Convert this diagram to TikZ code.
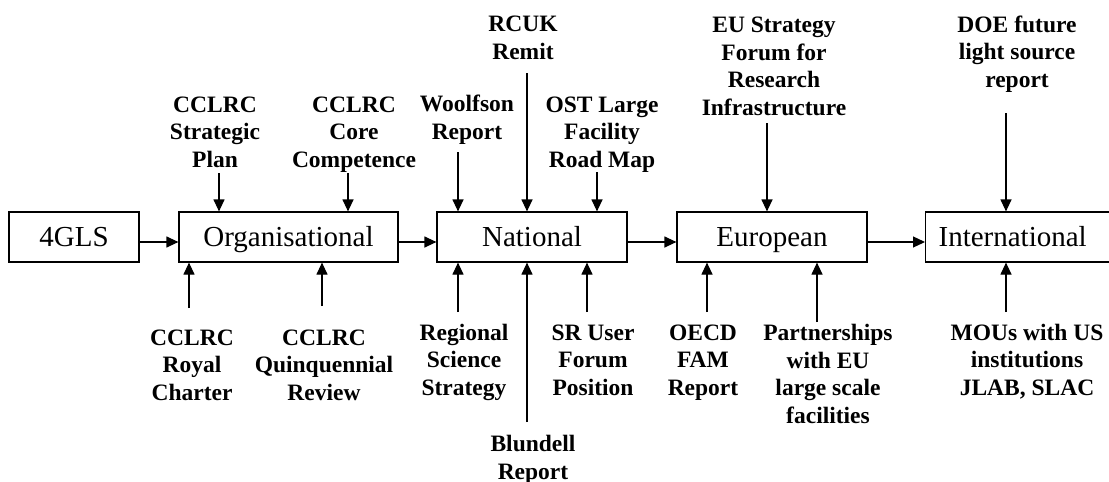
\documentclass[tikz,border=0pt]{standalone}
\usepackage{fontspec}
\setmainfont{Liberation Serif}
\usepackage{tikz}
\usetikzlibrary{arrows.meta}

\tikzset{
    stage/.style={draw, line width=1.2pt, minimum height=50pt, inner sep=0pt,
        text height=26pt, text depth=6.6pt, font=\fontsize{29}{33}\selectfont},
    source/.style={align=center, inner sep=0pt,
        font=\bfseries\fontsize{23.5}{27.5}\selectfont},
    feed/.style={line width=1.2pt, -{Triangle[length=12pt,width=11pt]}},
}

\begin{document}
\begin{tikzpicture}[x=1pt, y=-1pt]
    \useasboundingbox (0,0) rectangle (1109,482);
    \clip (0,0) rectangle (1109,482);

    % the chain of stages
    \node[stage, minimum width=130pt] (gls) at (74,237) {4GLS};
    \node[stage, minimum width=219pt] (org) at (288.5,237) {Organisational};
    \node[stage, minimum width=190pt] (nat) at (532,237) {National};
    \node[stage, minimum width=190pt] (eur) at (772,237) {European};
    \node[stage, anchor=west, text width=180pt, inner xsep=13pt, align=left] (intl) at (925,237) {International};

    \foreach \a/\b in {gls/org, org/nat, nat/eur, eur/intl}
        \draw[feed] ([yshift=-5pt]\a.east) -- ([yshift=-5pt]\b.west);

    % inputs from above (y of label = baseline of its last line)
    \foreach \nm/\lx/\ly/\ax/\ay/\st/\txt in {
        sp/215/167/219/173/org/{CCLRC\\Strategic\\Plan},
        cc/354/167/348/173/org/{CCLRC\\Core\\Competence},
        wr/467/139/458/152/nat/{Woolfson\\Report},
        rc/523/59/527/73/nat/{RCUK\\Remit},
        ost/602/167/597/172/nat/{OST Large\\Facility\\Road Map},
        eusf/774/115/767/123/eur/{EU Strategy\\Forum for\\Research\\Infrastructure},
        doe/1017/87/1006/113/intl/{DOE future\\light source\\report}}
    {
        \node[source, anchor=base] (\nm) at (\lx,\ly) {\txt};
        \coordinate (\nm-tail) at (\ax,\ay);
        \draw[feed] (\nm-tail) -- (\nm-tail |- \st.north);
    }

    % inputs from below
    \foreach \nm/\lx/\ly/\ax/\ay/\st/\txt in {
        rch/192/400/189/308/org/{CCLRC\\Royal\\Charter},
        qr/324/400/322/306/org/{CCLRC\\Quinquennial\\Review},
        rss/464/395/458/312/nat/{Regional\\Science\\Strategy},
        bl/533/479/527/422/nat/{Blundell\\Report},
        sr/593/395/587/312/nat/{SR User\\Forum\\Position},
        oecd/703/395/707/312/eur/{OECD\\FAM\\Report},
        peu/828/423/817/322/eur/{Partnerships\\with EU\\large scale\\facilities},
        mou/1027/395/1006/312/intl/{MOUs with US\\institutions\\JLAB, SLAC}}
    {
        \node[source, anchor=base] (\nm) at (\lx,\ly) {\txt};
        \coordinate (\nm-tail) at (\ax,\ay);
        \draw[feed] (\nm-tail) -- (\nm-tail |- \st.south);
    }
\end{tikzpicture}
\end{document}
